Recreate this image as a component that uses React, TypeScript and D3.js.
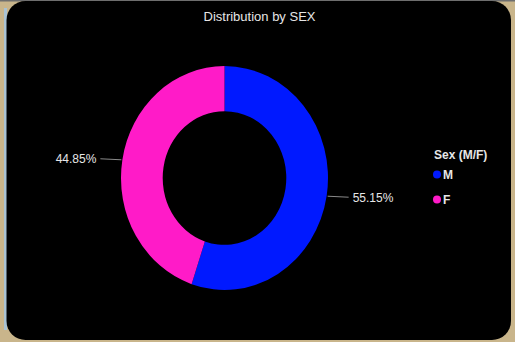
import React from "react";
import * as d3 from "d3";

// Sex distribution values (percent)
const categories = ["M", "F"];
const values = [55.15, 44.85];
const colors = ["#0019ff", "#ff1bc8"];
const title = "Distribution by SEX";
const legendTitle = "Sex (M/F)";

const W = 515;
const H = 342;

export default function App() {
  const cx = 224.5;
  const cy = 178;
  const rOuter = 103.5;
  const rInner = 61.8;
  const sy = 1.082; // vertical stretch of the donut

  const pie = d3
    .pie<number>()
    .sort(null)
    .value((d) => d);
  const arcs = pie(values);
  const arc = d3.arc<d3.PieArcDatum<number>>().innerRadius(rInner).outerRadius(rOuter);

  const labelFmt = (v: number) => v.toFixed(2) + "%";

  return (
    <svg
      width={W}
      height={H}
      style={{ position: "absolute", left: 0, top: 0, display: "block" }}
      fontFamily="'Liberation Sans', Arial, sans-serif"
    >
      <rect x={0} y={0} width={W} height={H} fill="#c9b58b" />
      <rect x={0} y={0} width={W} height={1.5} fill="#6e6e6e" />
      <rect x={4} y={8} width={3} height={H - 20} fill="#a9c3d4" />
      <rect x={6.5} y={1} width={504.5} height={339} rx={19} ry={19} fill="#000" />

      <text x={259.5} y={20.5} textAnchor="middle" fill="#e6e6e6" fontSize={13}>
        {title}
      </text>

      <g transform={`translate(${cx},${cy}) scale(1,${sy})`}>
        {arcs.map((a, i) => (
          <path key={categories[i]} d={arc(a) || ""} fill={colors[i]} />
        ))}
      </g>

      {arcs.map((a, i) => {
        const mid = (a.startAngle + a.endAngle) / 2;
        const dx = Math.sin(mid);
        const dy = -Math.cos(mid);
        const x0 = cx + dx * (rOuter + 1);
        const y0 = cy + dy * (rOuter + 1) * sy;
        const right = dx > 0;
        const x1 = x0 + (right ? 21 : -21);
        const y1 = y0 + (right ? 1 : -1);
        return (
          <g key={"lbl" + categories[i]}>
            <polyline
              points={`${x0},${y0} ${x1},${y1}`}
              fill="none"
              stroke="#8a8a8a"
              strokeWidth={1}
            />
            <text
              x={x1 + (right ? 4 : -4)}
              y={y1 + 4.5}
              textAnchor={right ? "start" : "end"}
              fill="#e6e6e6"
              fontSize={12}
            >
              {labelFmt(values[i])}
            </text>
          </g>
        );
      })}

      <g>
        <text x={434} y={159} fill="#e6e6e6" fontSize={12} fontWeight="bold">
          {legendTitle}
        </text>
        {categories.map((c, i) => (
          <g key={"leg" + c}>
            <circle cx={437} cy={174.5 + i * 25} r={4} fill={colors[i]} />
            <text x={443} y={179 + i * 25} fill="#e6e6e6" fontSize={12} fontWeight="bold">
              {c}
            </text>
          </g>
        ))}
      </g>
    </svg>
  );
}
